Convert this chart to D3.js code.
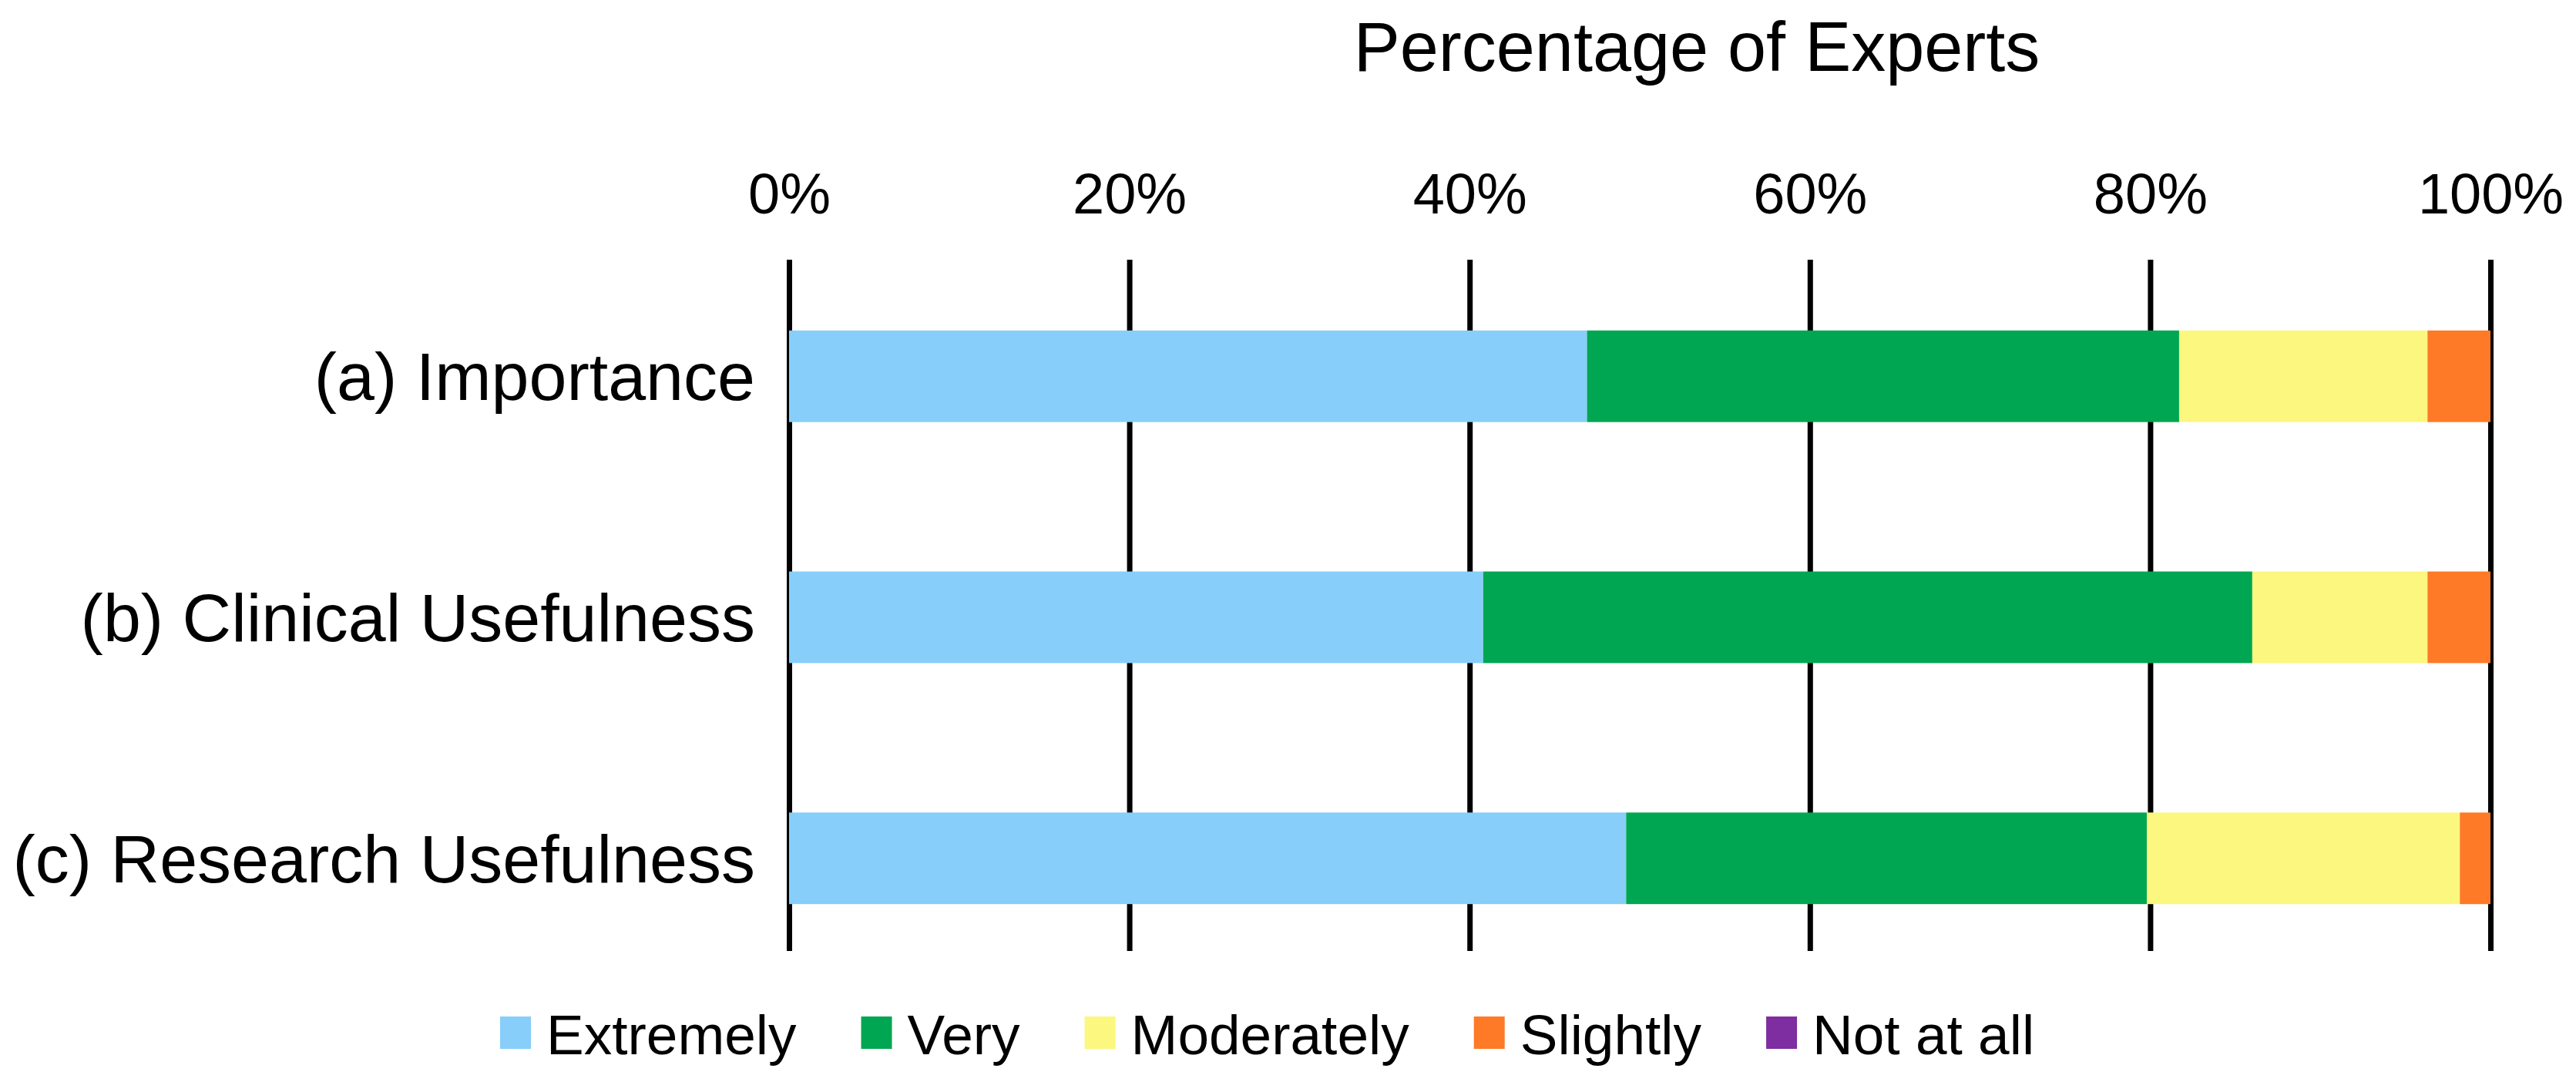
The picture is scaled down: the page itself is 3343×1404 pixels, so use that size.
<!DOCTYPE html>
<html>
<head>
<meta charset="utf-8">
<script src="https://cdn.jsdelivr.net/npm/d3@7"></script>
<style>
    body { margin: 0; background: #ffffff; }
    text { font-family: "Liberation Sans", Arial, Helvetica, sans-serif; fill: #000000; }
</style>
</head>
<body>
<div id="vis"></div>
<script>
// set the width and height
var width = 3343;
var height = 1404;

// data (percent of experts)
var questions = ["(a) Importance", "(b) Clinical Usefulness", "(c) Research Usefulness"];
var levels = ["Extremely", "Very", "Moderately", "Slightly", "Not at all"];
var extremely = [46.9, 40.8, 49.2];
var very = [34.8, 45.2, 30.6];
var moderately = [14.6, 10.3, 18.4];
var slightly = [3.7, 3.7, 1.8];
var notAtAll = [0, 0, 0];
var ticks = [0, 20, 40, 60, 80, 100];
var colours = ["#87cefa", "#00a651", "#fcf77e", "#fe7a27", "#7e2ea0"];

var table = questions.map(function(q, i) {
    return {
        question: q,
        "Extremely": extremely[i],
        "Very": very[i],
        "Moderately": moderately[i],
        "Slightly": slightly[i],
        "Not at all": notAtAll[i]
    };
});

var margin = {
    top: 337,
    bottom: 170,
    left: 1024,
    right: 111
};

var gridHeight = 897;

var svg = d3.select('#vis')
    .append('svg')
    .attr('width', width)
    .attr('height', height);

svg.append('rect')
    .attr('width', width)
    .attr('height', height)
    .attr('fill', '#ffffff');

var x_scale = d3.scaleLinear()
    .domain([0, 100])
    .range([margin.left, width - margin.right]);

var y_scale = d3.scaleBand()
    .domain(questions)
    .range([335, 1267])
    .paddingInner(0.62)
    .paddingOuter(0.3);

var colour_scale = d3.scaleOrdinal()
    .domain(levels)
    .range(colours);

// grid lines + percent labels on top
var x_axis = d3.axisTop(x_scale)
    .tickValues(ticks)
    .tickSize(-gridHeight)
    .tickPadding(60)
    .tickFormat(function(d) { return d + "%"; });

var gx = svg.append('g')
    .attr('class', 'x axis')
    .attr('transform', 'translate(0,' + margin.top + ')')
    .call(x_axis);

gx.select('.domain').remove();
gx.selectAll('.tick line')
    .attr('stroke', '#000000')
    .attr('stroke-width', 7);
gx.selectAll('.tick text')
    .style('font-size', '74px')
    .attr('fill', '#000000');

// stacked bars
var stack = d3.stack().keys(levels);
var series = stack(table);

svg.append('g')
    .selectAll('g')
    .data(series)
    .enter().append('g')
    .attr('fill', function(d) { return colour_scale(d.key); })
    .selectAll('rect')
    .data(function(d) { return d; })
    .enter().append('rect')
    .attr('x', function(d) { return x_scale(d[0]); })
    .attr('y', function(d) { return y_scale(d.data.question); })
    .attr('width', function(d) { return x_scale(d[1]) - x_scale(d[0]); })
    .attr('height', y_scale.bandwidth());

// category labels
var y_axis = d3.axisLeft(y_scale)
    .tickSize(0)
    .tickPadding(44);

var gy = svg.append('g')
    .attr('class', 'y axis')
    .attr('transform', 'translate(' + margin.left + ',0)')
    .call(y_axis);

gy.select('.domain').remove();
gy.selectAll('.tick text')
    .style('font-size', '88px')
    .attr('fill', '#000000')
    .attr('dy', '0.35em');

// title
svg.append('text')
    .attr('x', 2202)
    .attr('y', 92)
    .attr('text-anchor', 'middle')
    .style('font-size', '90px')
    .text('Percentage of Experts');

// legend
var legend = svg.append('g')
    .attr('class', 'legend')
    .attr('transform', 'translate(649,1319)');

var offset = 0;
levels.forEach(function(key) {
    var item = legend.append('g')
        .attr('transform', 'translate(' + offset + ',0)');
    item.append('rect')
        .attr('width', 40)
        .attr('height', 42)
        .attr('fill', colour_scale(key));
    var label = item.append('text')
        .attr('x', 60)
        .attr('y', 49)
        .style('font-size', '73px')
        .text(key);
    offset += 60 + label.node().getComputedTextLength() + 84;
});
</script>
</body>
</html>
